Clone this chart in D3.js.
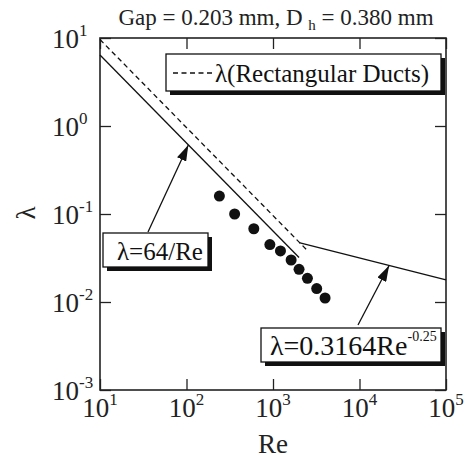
<!DOCTYPE html>
<html>
<head>
<meta charset="utf-8">
<script src="https://cdn.jsdelivr.net/npm/d3@7"></script>
<style>
  body { margin: 0; background: #fff; }
  svg { font-family: "Liberation Serif", "Times New Roman", serif; }
</style>
</head>
<body>
<svg class="chart" width="475" height="459"></svg>
<script>
// measured friction factor
var reData = [240, 360, 600, 920, 1220, 1620, 2000, 2500, 3200, 4000];
var lambdaData = [0.160, 0.100, 0.068, 0.045, 0.038, 0.030, 0.0235, 0.0186, 0.0142, 0.0111];

// theory curves: sampled at the ends (straight on log-log)
var laminarRe = [10, 2000];          // 64/Re
var rectRe = [10, 2500];             // 96/Re, rectangular ducts
var blasiusRe = [2000, 100000];      // 0.3164 Re^-0.25

var xTicks = [1, 2, 3, 4, 5];        // exponents of 10
var yTicks = [-3, -2, -1, 0, 1];

var svg = d3.select("svg.chart"),
    margin = {top: 38, right: 29, bottom: 69, left: 100},
    width = +svg.attr("width") - margin.left - margin.right,
    height = +svg.attr("height") - margin.top - margin.bottom,
    g = svg.append("g").attr("transform", "translate(" + margin.left + "," + margin.top + ")");

var x = d3.scaleLog().domain([10, 1e5]).range([0, width]);
var y = d3.scaleLog().domain([1e-3, 10]).range([height, 0]);

var line = d3.line().x(function(d) { return x(d[0]); }).y(function(d) { return y(d[1]); });

// frame + inward ticks on all four sides
var tickVals = xTicks.map(function(e) { return Math.pow(10, e); });
var tickValsY = yTicks.map(function(e) { return Math.pow(10, e); });

function styleAxis(sel) {
  sel.selectAll(".domain").remove();
  sel.selectAll("line").attr("stroke", "#222").attr("stroke-width", 1.3);
  sel.selectAll("text").remove();
}
g.append("g").attr("transform", "translate(0," + height + ")")
  .call(d3.axisBottom(x).tickValues(tickVals).tickSize(-11)).call(styleAxis);
g.append("g")
  .call(d3.axisTop(x).tickValues(tickVals).tickSize(-11)).call(styleAxis);
g.append("g")
  .call(d3.axisLeft(y).tickValues(tickValsY).tickSize(-11)).call(styleAxis);
g.append("g").attr("transform", "translate(" + width + ",0)")
  .call(d3.axisRight(y).tickValues(tickValsY).tickSize(-11)).call(styleAxis);

g.append("rect")
  .attr("width", width).attr("height", height)
  .attr("fill", "none").attr("stroke", "#222").attr("stroke-width", 1.6);

// tick labels 10^n
var xl = g.append("g").selectAll("text").data(xTicks).enter().append("text")
  .attr("x", function(d) { return x(Math.pow(10, d)); })
  .attr("y", height + 27)
  .attr("font-size", 27).attr("fill", "#222");
xl.append("tspan").attr("text-anchor", "middle").text("10");
xl.append("tspan").attr("dy", -12).attr("font-size", 17)
  .text(function(d) { return d; });

var yl = g.append("g").selectAll("text").data(yTicks).enter().append("text")
  .attr("x", -21)
  .attr("y", function(d) { return y(Math.pow(10, d)) + 10; })
  .attr("text-anchor", "end")
  .attr("font-size", 27).attr("fill", "#222");
yl.append("tspan").text("10");
yl.append("tspan").attr("dy", -12).attr("font-size", 17)
  .text(function(d) { return d; });
// superscripts hang to the right of the "10"
yl.each(function(d) {
  var t = d3.select(this);
  var sup = t.select("tspan:nth-child(2)");
  var w = sup.node().getComputedTextLength();
  t.attr("x", -21 + w);
});

// axis titles
svg.append("text")
  .attr("x", margin.left + width / 2).attr("y", 453)
  .attr("text-anchor", "middle").attr("font-size", 27).attr("fill", "#222")
  .text("Re");
svg.append("text")
  .attr("transform", "translate(35,213) rotate(-90)")
  .attr("text-anchor", "middle").attr("font-size", 27).attr("fill", "#222")
  .text("λ");

// title
var title = svg.append("text")
  .attr("x", margin.left + width / 2 + 3).attr("y", 25)
  .attr("text-anchor", "middle").attr("font-size", 23).attr("fill", "#222");
title.append("tspan").text("Gap = 0.203 mm, D ");
title.append("tspan").attr("font-size", 15).attr("dy", 5).text("h");
title.append("tspan").attr("dy", -5).text(" = 0.380 mm");

// curves
g.append("path")
  .datum(laminarRe.map(function(r) { return [r, 64 / r]; }))
  .attr("d", line).attr("fill", "none").attr("stroke", "#111").attr("stroke-width", 1.3);
g.append("path")
  .datum(rectRe.map(function(r) { return [r, 96 / r]; }))
  .attr("d", line).attr("fill", "none").attr("stroke", "#111").attr("stroke-width", 1.3)
  .attr("stroke-dasharray", "5,3.5");
g.append("path")
  .datum(blasiusRe.map(function(r) { return [r, 0.3164 * Math.pow(r, -0.25)]; }))
  .attr("d", line).attr("fill", "none").attr("stroke", "#111").attr("stroke-width", 1.3);

// measured points
g.append("g").selectAll("circle")
  .data(reData.map(function(r, i) { return [r, lambdaData[i]]; }))
  .enter().append("circle")
  .attr("cx", function(d) { return x(d[0]); })
  .attr("cy", function(d) { return y(d[1]); })
  .attr("r", 5.5).attr("fill", "#111");

// arrow head
svg.append("defs").append("marker")
  .attr("id", "head").attr("viewBox", "0 0 16 10")
  .attr("refX", 16).attr("refY", 5)
  .attr("markerWidth", 16).attr("markerHeight", 10)
  .attr("markerUnits", "userSpaceOnUse").attr("orient", "auto")
  .append("path").attr("d", "M0,0 L16,5 L0,10 Z").attr("fill", "#111");

function shadowBox(x0, y0, w, h) {
  g.append("rect").attr("x", x0 + 4).attr("y", y0 + 4).attr("width", w).attr("height", h)
    .attr("fill", "#111");
  g.append("rect").attr("x", x0).attr("y", y0).attr("width", w).attr("height", h)
    .attr("fill", "#fff").attr("stroke", "#111").attr("stroke-width", 1.3);
}

// legend
shadowBox(66, 16, 275, 37);
g.append("line").attr("x1", 73).attr("x2", 113).attr("y1", 35).attr("y2", 35)
  .attr("stroke", "#111").attr("stroke-width", 1.3).attr("stroke-dasharray", "5,3.5");
g.append("text").attr("x", 115).attr("y", 44).attr("font-size", 25).attr("fill", "#111")
  .text("λ(Rectangular Ducts)");

// laminar annotation
var tipL = [x(105), y(64 / 105)];
g.append("line").attr("x1", 48).attr("y1", 194).attr("x2", tipL[0]).attr("y2", tipL[1])
  .attr("stroke", "#111").attr("stroke-width", 1.3).attr("marker-end", "url(#head)");
shadowBox(3, 195, 105, 34);
g.append("text").attr("x", 17).attr("y", 222).attr("font-size", 25).attr("fill", "#111")
  .text("λ=64/Re");

// Blasius annotation
var tipB = [x(22000), y(0.3164 * Math.pow(22000, -0.25))];
g.append("line").attr("x1", 258).attr("y1", 287).attr("x2", tipB[0]).attr("y2", tipB[1])
  .attr("stroke", "#111").attr("stroke-width", 1.3).attr("marker-end", "url(#head)");
shadowBox(161, 290, 180, 34);
var bt = g.append("text").attr("x", 170).attr("y", 317).attr("font-size", 28).attr("fill", "#111");
bt.append("tspan").text("λ=0.3164Re");
bt.append("tspan").attr("dy", -14).attr("font-size", 14).text("-0.25");
</script>
</body>
</html>
